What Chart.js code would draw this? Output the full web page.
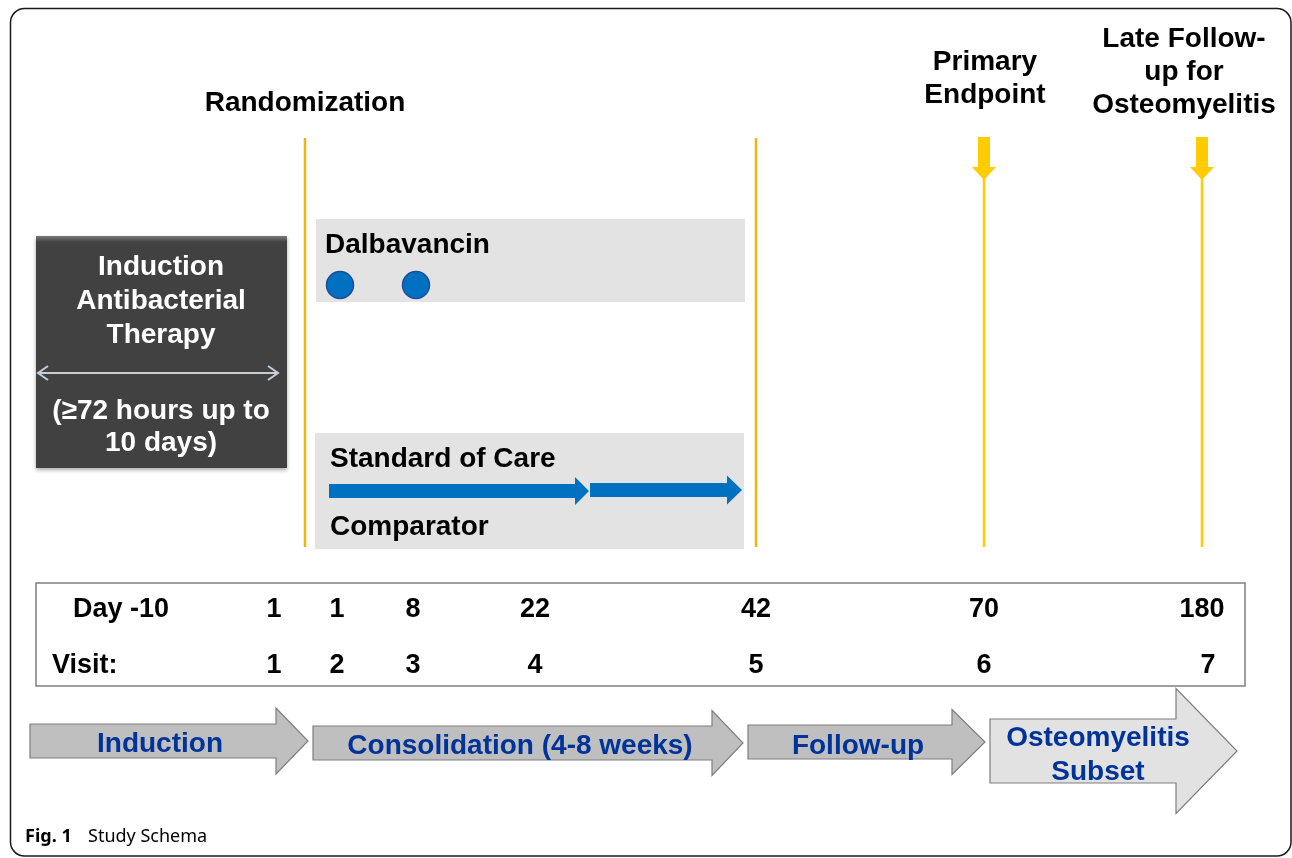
<!DOCTYPE html>
<html>
<head>
<meta charset="utf-8">
<title>Study Schema</title>
<script src="https://cdn.jsdelivr.net/npm/chart.js@4.4.1/dist/chart.umd.min.js"></script>
<style>
  body { margin: 0; background: #fff; }
  canvas { display: block; }
</style>
</head>
<body>
<canvas id="schema-chart" width="1292" height="858"></canvas>
<script>
// Timeline data
const dayLabels = ['1', '1', '8', '22', '42', '70', '180'];
const visitLabels = ['1', '2', '3', '4', '5', '6', '7'];
const dalbavancinDoseVisits = [2, 3];
const phaseLabels = [['Induction'], ['Consolidation (4-8 weeks)'], ['Follow-up'], ['Osteomyelitis', 'Subset']];
const milestoneLabels = [['Primary', 'Endpoint'], ['Late Follow-', 'up for', 'Osteomyelitis']];
const milestoneVisits = [6, 7];
const inductionLines = ['Induction', 'Antibacterial', 'Therapy', '(\u226572 hours up to', '10 days)'];

// layout (diagram units, one unit per pixel of the figure)
const visitX = [274, 337, 413, 535, 756, 984, 1202];
const randomizationX = 305;

const FONT = '"Liberation Sans", Arial, sans-serif';

document.addEventListener('DOMContentLoaded', () => {
    const canvas = document.getElementById('schema-chart');
    const ctx = canvas.getContext('2d');

    const xOf = (visit) => visitX[visit - 1];

    const schemaPlugin = {
        id: 'schema',
        beforeDatasetsDraw(chart) {
            const c = chart.ctx;
            const sx = chart.scales.x, sy = chart.scales.y;
            const X = v => sx.getPixelForValue(v);
            const Y = v => sy.getPixelForValue(v);

            // outer frame
            c.save();
            c.strokeStyle = '#1a1a1a';
            c.lineWidth = 1.5;
            c.beginPath();
            c.roundRect(X(10.5), Y(8.5), X(1291) - X(10.5), Y(856) - Y(8.5), 14);
            c.stroke();

            // induction box
            c.shadowColor = 'rgba(0,0,0,0.35)';
            c.shadowBlur = 4;
            c.shadowOffsetY = 2;
            c.fillStyle = '#414141';
            c.fillRect(X(36), Y(236), X(287) - X(36), Y(468) - Y(236));
            c.shadowColor = 'transparent';
            const g = c.createLinearGradient(0, Y(236), 0, Y(242));
            g.addColorStop(0, '#7a7a7a');
            g.addColorStop(1, '#414141');
            c.fillStyle = g;
            c.fillRect(X(36), Y(236), X(287) - X(36), 6);

            // treatment arm boxes
            c.fillStyle = '#e3e3e3';
            c.fillRect(X(316), Y(219), X(745) - X(316), Y(302) - Y(219));
            c.fillRect(X(315), Y(433), X(744) - X(315), Y(549) - Y(433));

            // visit table
            c.strokeStyle = '#7f7f7f';
            c.lineWidth = 1.5;
            c.strokeRect(X(36), Y(583), X(1245) - X(36), Y(686) - Y(583));
            c.restore();
        },
        afterDatasetsDraw(chart) {
            const c = chart.ctx;
            const sx = chart.scales.x, sy = chart.scales.y;
            const X = v => sx.getPixelForValue(v);
            const Y = v => sy.getPixelForValue(v);
            c.save();

            // block arrow helper
            const blockArrow = (x0, x1, headX, yc, shaftH, headH, fill, stroke) => {
                c.beginPath();
                c.moveTo(X(x0), Y(yc - shaftH / 2));
                c.lineTo(X(headX), Y(yc - shaftH / 2));
                c.lineTo(X(headX), Y(yc - headH / 2));
                c.lineTo(X(x1), Y(yc));
                c.lineTo(X(headX), Y(yc + headH / 2));
                c.lineTo(X(headX), Y(yc + shaftH / 2));
                c.lineTo(X(x0), Y(yc + shaftH / 2));
                c.closePath();
                c.fillStyle = fill;
                c.fill();
                if (stroke) {
                    c.strokeStyle = stroke;
                    c.lineWidth = 1.2;
                    c.stroke();
                }
            };

            // standard of care arrows
            blockArrow(329, 589, 575, 491, 14, 28, '#0070c0');
            blockArrow(590, 742, 727, 490, 14, 29, '#0070c0');

            // milestone arrows (down)
            milestoneVisits.forEach(v => {
                const x = xOf(v);
                c.fillStyle = '#ffcc00';
                c.fillRect(X(x - 6), Y(137), X(x + 6) - X(x - 6), Y(168) - Y(137));
                c.beginPath();
                c.moveTo(X(x - 12), Y(167));
                c.lineTo(X(x + 12), Y(167));
                c.lineTo(X(x), Y(180));
                c.closePath();
                c.fill();
            });

            // phase arrows
            blockArrow(30, 308, 276, 741, 34, 66, '#bfbfbf', '#7f7f7f');
            blockArrow(313, 743, 712, 743, 34, 65, '#bfbfbf', '#7f7f7f');
            blockArrow(748, 985, 952, 742, 34, 65, '#bfbfbf', '#7f7f7f');
            blockArrow(990, 1237, 1176, 751, 64, 125, '#e2e2e2', '#7f7f7f');

            // double arrow in induction box
            c.strokeStyle = '#c5ced7';
            c.lineWidth = 2;
            c.beginPath();
            c.moveTo(X(38), Y(373)); c.lineTo(X(278), Y(373));
            c.moveTo(X(48), Y(366)); c.lineTo(X(38), Y(373)); c.lineTo(X(48), Y(380));
            c.moveTo(X(268), Y(366)); c.lineTo(X(278), Y(373)); c.lineTo(X(268), Y(380));
            c.stroke();

            // texts
            const text = (s, x, y, opts = {}) => {
                c.font = opts.font || ('bold 28px ' + FONT);
                c.fillStyle = opts.color || '#000';
                c.textAlign = opts.align || 'center';
                c.textBaseline = 'alphabetic';
                c.fillText(s, X(x), Y(y));
            };

            text('Randomization', randomizationX, 111);
            milestoneLabels[0].forEach((s, i) => text(s, 985, 70 + i * 33));
            milestoneLabels[1].forEach((s, i) => text(s, 1184, 47 + i * 33));

            inductionLines.forEach((s, i) => {
                const y = i < 3 ? 275 + i * 34 : 419 + (i - 3) * 32;
                text(s, 161, y, { color: '#fff' });
            });

            text('Dalbavancin', 325, 253, { align: 'left' });
            text('Standard of Care', 330, 467, { align: 'left' });
            text('Comparator', 330, 535, { align: 'left' });

            text('Day -10', 121, 617, { font: 'bold 27px ' + FONT });
            text('Visit:', 52, 673, { align: 'left', font: 'bold 27px ' + FONT });
            dayLabels.forEach((s, i) => text(s, visitX[i], 617, { font: 'bold 27px ' + FONT }));
            visitLabels.forEach((s, i) => text(s, visitX[i] + (i === 6 ? 6 : 0), 673, { font: 'bold 27px ' + FONT }));

            const phaseCenters = [[160, 752], [520, 754], [858, 754], [1098, 746]];
            phaseLabels.forEach((lines, i) => {
                lines.forEach((s, j) => text(s, phaseCenters[i][0], phaseCenters[i][1] + j * 34, { color: '#003399' }));
            });

            // caption
            c.font = 'bold 18px "Noto Sans", sans-serif';
            c.fillStyle = '#000';
            c.textAlign = 'left';
            c.fillText('Fig. 1', X(25), Y(842));
            c.font = '18px "Noto Sans", sans-serif';
            c.fillText('Study Schema', X(88), Y(842));
            c.restore();
        }
    };

    const vline = (x, y0, y1, color) => ({
        type: 'line',
        data: [{ x: x, y: y0 }, { x: x, y: y1 }],
        borderColor: color,
        borderWidth: 2.5,
        pointRadius: 0,
        showLine: true,
        clip: false
    });

    new Chart(ctx, {
        type: 'scatter',
        data: {
            datasets: [
                vline(randomizationX, 138, 547, '#e8b810'),
                vline(xOf(5), 138, 547, '#e8b810'),
                ...milestoneVisits.map(v => vline(xOf(v), 178, 547, '#ffcc00')),
                {
                    label: 'Dalbavancin dose',
                    data: dalbavancinDoseVisits.map(v => ({ x: xOf(v) + 3, y: 285 })),
                    pointRadius: 13.5,
                    backgroundColor: '#0070c0',
                    borderColor: '#1f4e99',
                    borderWidth: 1.5,
                    clip: false
                }
            ]
        },
        options: {
            responsive: false,
            animation: false,
            events: [],
            layout: { padding: 0, autoPadding: false },
            plugins: { legend: { display: false }, tooltip: { enabled: false } },
            scales: {
                x: { type: 'linear', min: 0, max: 1292, display: false },
                y: { type: 'linear', min: 0, max: 858, reverse: true, display: false }
            }
        },
        plugins: [schemaPlugin]
    });
});
</script>
</body>
</html>
